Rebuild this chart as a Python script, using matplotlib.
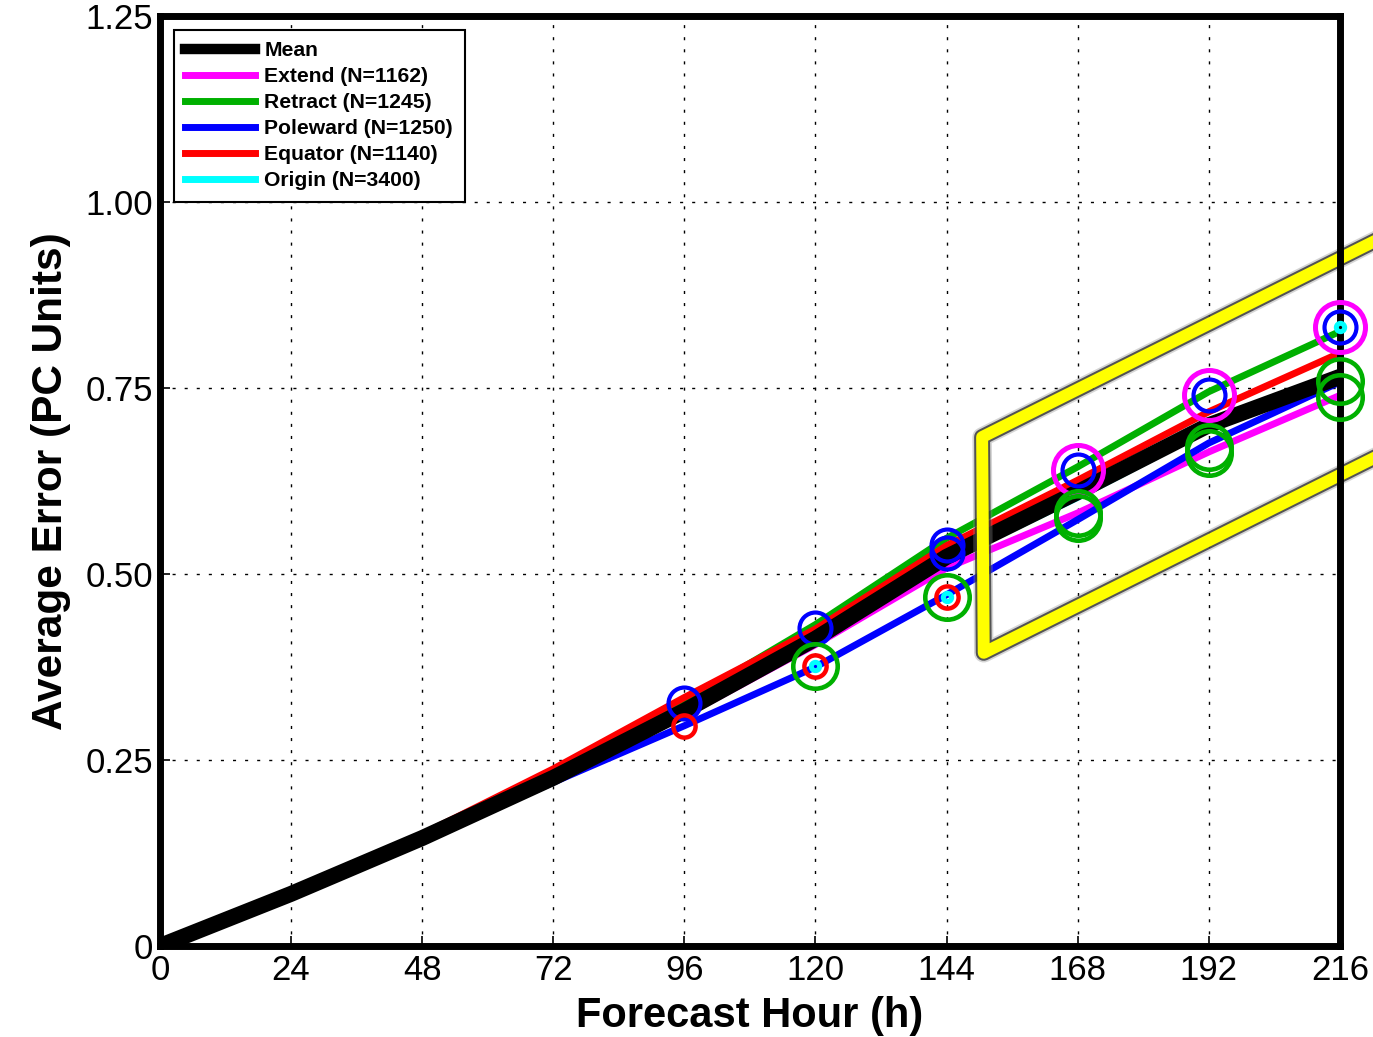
import numpy as np
import matplotlib
matplotlib.use('Agg')
import matplotlib.pyplot as plt
import matplotlib.patheffects as pe
from matplotlib.lines import Line2D

plt.rcParams['font.family'] = ['Liberation Sans', 'DejaVu Sans']

# forecast hours and average error per category
hours = [0, 24, 48, 72, 96, 120, 144, 168, 192, 216]
mean_err = [0, 0.070, 0.145, 0.226, 0.316, 0.413, 0.523, 0.610, 0.700, 0.765]
extend_err = [0, 0.070, 0.144, 0.223, 0.310, 0.405, 0.508, 0.582, 0.664, 0.740]
retract_err = [0, 0.070, 0.146, 0.232, 0.328, 0.432, 0.548, 0.644, 0.745, 0.826]
poleward_err = [0, 0.069, 0.142, 0.220, 0.296, 0.375, 0.472, 0.573, 0.676, 0.758]
equator_err = [0, 0.071, 0.150, 0.238, 0.334, 0.426, 0.538, 0.626, 0.718, 0.797]
origin_err = [0, 0.070, 0.144, 0.223, 0.312, 0.408, 0.518, 0.603, 0.695, 0.760]

labels = ['Mean', 'Extend (N=1162)', 'Retract (N=1245)', 'Poleward (N=1250)',
          'Equator (N=1140)', 'Origin (N=3400)']
colors = ['black', '#ff00ff', '#00b000', '#0000ff', '#ff0000', '#00ffff']

# significance rings: (hour, value, colour index, ring size)
ring_hour = [96, 96, 120, 120, 120, 120, 144, 144, 144, 144, 144,
             168, 168, 168, 168, 192, 192, 192, 192, 216, 216, 216, 216, 216]
ring_val = [0.327, 0.296, 0.427, 0.376, 0.376, 0.376, 0.539, 0.528, 0.469, 0.469, 0.469,
            0.640, 0.640, 0.582, 0.575, 0.740, 0.740, 0.670, 0.663, 0.832, 0.832, 0.832, 0.760, 0.738]
ring_col = [3, 4, 3, 2, 4, 5, 3, 3, 2, 4, 5,
            1, 3, 2, 2, 1, 3, 2, 2, 1, 3, 5, 2, 2]
ring_kind = ['m', 's', 'm', 'l', 's', 't', 'm', 'm', 'l', 's', 't',
             'x', 'm', 'l', 'l', 'x', 'm', 'l', 'l', 'x', 'm', 't', 'l', 'l']

# highlight box corners (hours, error)
box_x = [240, 150.5, 150.8, 240]
box_y = [1.012, 0.684, 0.394, 0.721]

fig = plt.figure(figsize=(13.73, 10.37), dpi=100)
ax = fig.add_axes([0.1165, 0.0878, 0.8594, 0.8968])

ax.plot(hours, origin_err, color=colors[5], lw=5, zorder=2)
ax.plot(hours, extend_err, color=colors[1], lw=5, zorder=2)
ax.plot(hours, poleward_err, color=colors[3], lw=5, zorder=2.05)
ax.plot(hours, retract_err, color=colors[2], lw=5, zorder=2.05)
ax.plot(hours, equator_err, color=colors[4], lw=5, zorder=2.1)
ax.plot(hours, mean_err, color=colors[0], lw=11.5, zorder=2.2)

ax.plot(box_x, box_y, color='#ffff00', lw=8.6, solid_joinstyle='round',
        clip_on=False, zorder=2.3,
        path_effects=[pe.Stroke(linewidth=14, foreground='#888888', alpha=0.35),
                      pe.Stroke(linewidth=11.5, foreground='#333333', alpha=0.8),
                      pe.Normal()])

sizes = {'s': (16, 3.2), 'm': (23, 3.0), 'l': (32, 3.3), 'x': (36, 3.6), 't': (6, 3.6)}
for h, v, c, k in zip(ring_hour, ring_val, ring_col, ring_kind):
    ms, mew = sizes[k]
    ax.plot([h], [v], 'o', ms=ms, mfc='none', mec=colors[c], mew=mew,
            clip_on=False, zorder=4)

ax.set_xlim(0, 216)
ax.set_ylim(0, 1.25)
ax.set_xticks(hours)
ax.set_xticklabels([str(h) for h in hours])
yt = [0, 0.25, 0.5, 0.75, 1.0, 1.25]
ax.set_yticks(yt)
ax.set_yticklabels(['0', '0.25', '0.50', '0.75', '1.00', '1.25'])
ax.tick_params(direction='in', length=7, width=1.2, labelsize=25, pad=5)
ax.tick_params(axis='x', pad=6)

for s in ax.spines.values():
    s.set_linewidth(5)
ax.grid(True, color='black', lw=1.0, linestyle=(0, (2.2, 6.5)))
ax.set_axisbelow(True)

ax.set_xlabel('Forecast Hour (h)', fontsize=30, fontweight='bold', labelpad=6)
ax.set_ylabel('Average Error (PC Units)', fontsize=30.5, fontweight='bold', labelpad=10)

handles = [Line2D([], [], color=colors[0], lw=7.5)] + \
          [Line2D([], [], color=c, lw=5) for c in colors[1:]]
leg = ax.legend(handles, labels, loc='upper left', fancybox=False, framealpha=1,
                edgecolor='black', prop={'weight': 'bold', 'size': 15.2},
                handlelength=3.3, handletextpad=0.45, labelspacing=0.33,
                borderpad=0.55, borderaxespad=0.65)
leg.get_frame().set_linewidth(1.5)
leg.set_zorder(6)

fig.savefig('out.png', dpi=100)
